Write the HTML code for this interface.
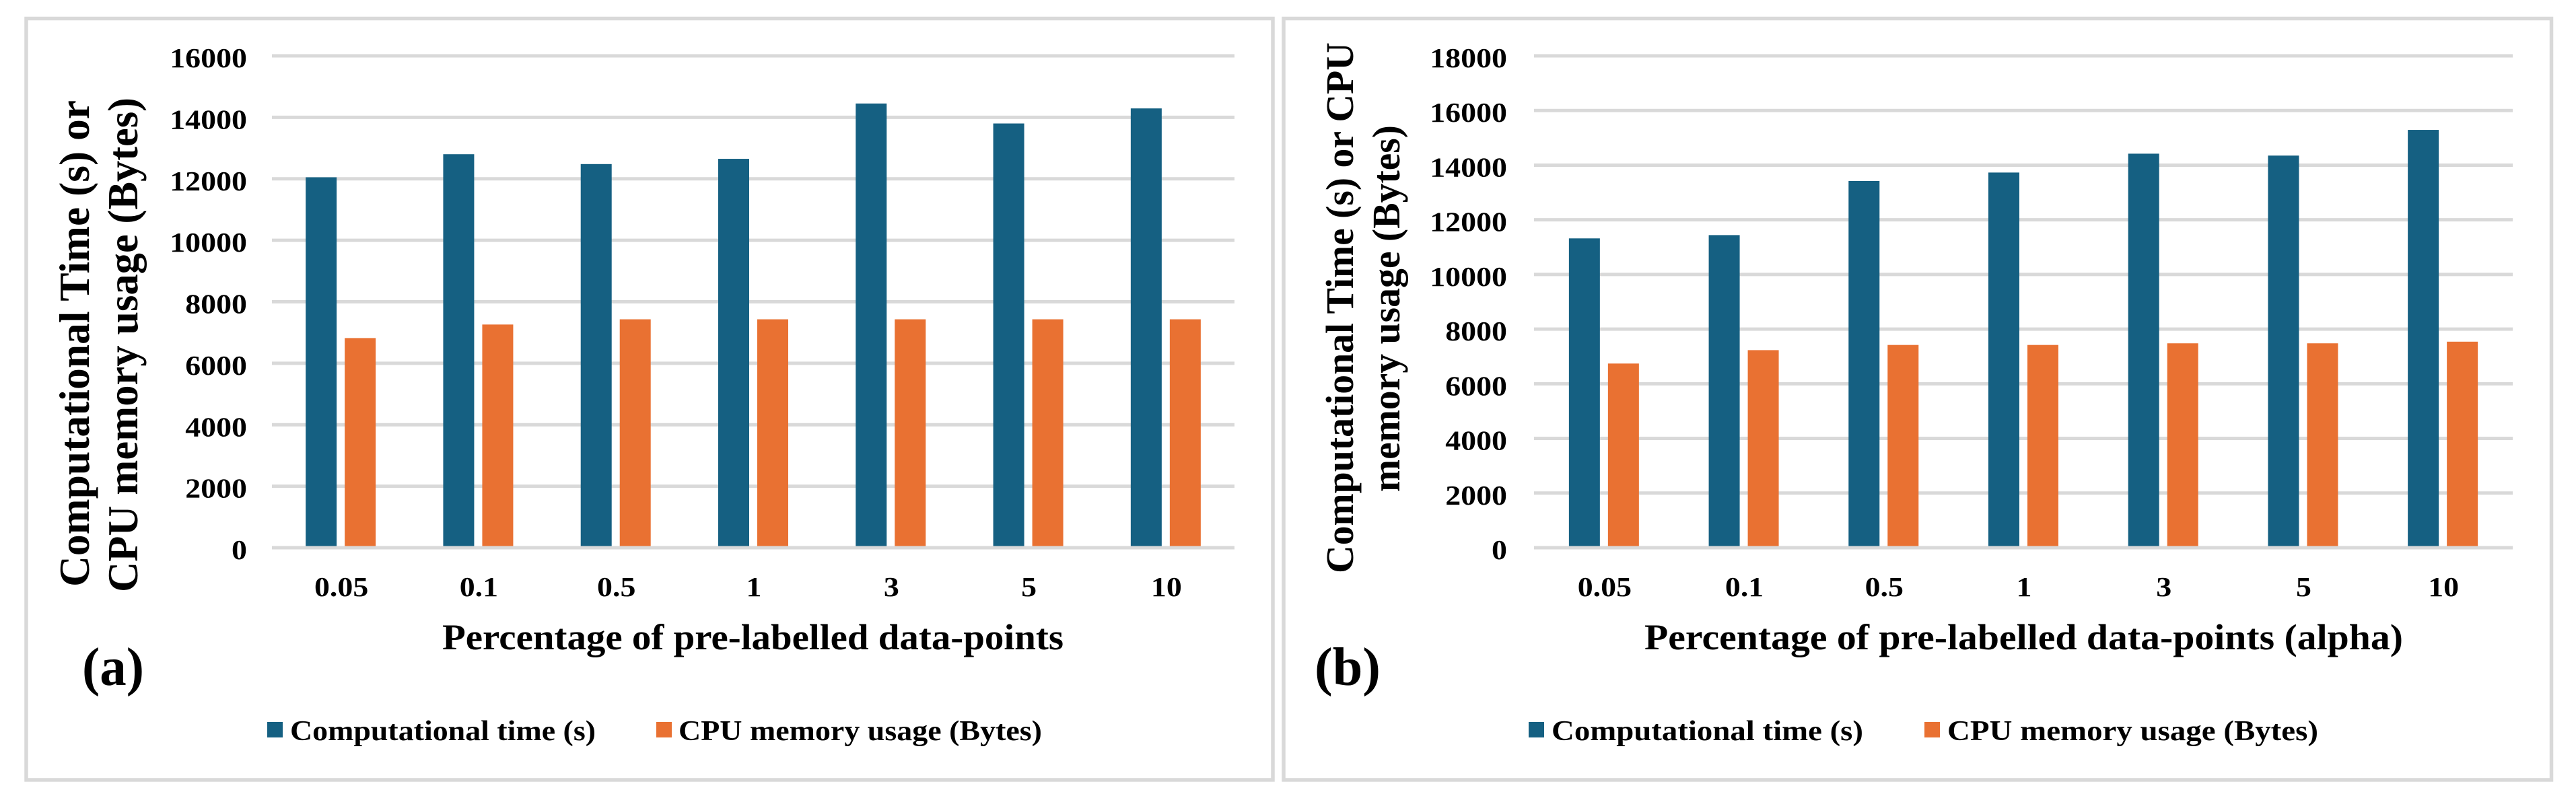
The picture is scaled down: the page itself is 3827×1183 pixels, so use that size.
<!DOCTYPE html>
<html lang="en">
<head>
<meta charset="utf-8">
<title>Computational time and CPU memory usage charts</title>
<style>
  html, body { margin: 0; padding: 0; background: #fff; }
  svg { display: block; }
  text { font-family: "Liberation Serif", serif; font-weight: bold; fill: #000; }
</style>
</head>
<body>
<svg id="figure" xmlns="http://www.w3.org/2000/svg" width="3827" height="1183" viewBox="0 0 3827 1183">
  <rect x="0" y="0" width="3827" height="1183" fill="#ffffff"/>

  <g id="panel-a">
    <rect x="39" y="27.5" width="1852" height="1131.5" fill="#ffffff" stroke="#d9d9d9" stroke-width="5.5"/>
    <g id="plot-a"></g>
    <text transform="translate(132,872) rotate(-90)" font-size="64" textLength="723" lengthAdjust="spacingAndGlyphs">Computational Time (s) or</text>
    <text transform="translate(204,880) rotate(-90)" font-size="64" textLength="735" lengthAdjust="spacingAndGlyphs">CPU memory usage (Bytes)</text>
    <text x="657" y="965" font-size="54" textLength="923" lengthAdjust="spacingAndGlyphs">Percentage of pre-labelled data-points</text>
    <text x="122" y="1018" font-size="80" textLength="92" lengthAdjust="spacingAndGlyphs">(a)</text>
    <rect x="397" y="1073" width="23" height="23" fill="#156082"/>
    <text x="431" y="1100" font-size="42" textLength="454" lengthAdjust="spacingAndGlyphs">Computational time (s)</text>
    <rect x="975" y="1073" width="23" height="23" fill="#e97132"/>
    <text x="1008" y="1100" font-size="42" textLength="540" lengthAdjust="spacingAndGlyphs">CPU memory usage (Bytes)</text>
  </g>

  <g id="panel-b">
    <rect x="1907" y="27.5" width="1883.5" height="1131.5" fill="#ffffff" stroke="#d9d9d9" stroke-width="5.5"/>
    <g id="plot-b"></g>
    <text transform="translate(2010,852) rotate(-90)" font-size="58" textLength="789" lengthAdjust="spacingAndGlyphs">Computational Time (s) or CPU</text>
    <text transform="translate(2079,731) rotate(-90)" font-size="58" textLength="545" lengthAdjust="spacingAndGlyphs">memory usage (Bytes)</text>
    <text x="2443" y="965" font-size="54" textLength="1127" lengthAdjust="spacingAndGlyphs">Percentage of pre-labelled data-points (alpha)</text>
    <text x="1953" y="1018" font-size="80" textLength="98" lengthAdjust="spacingAndGlyphs">(b)</text>
    <rect x="2271" y="1073" width="23" height="23" fill="#156082"/>
    <text x="2305" y="1100" font-size="42" textLength="463" lengthAdjust="spacingAndGlyphs">Computational time (s)</text>
    <rect x="2859" y="1073" width="23" height="23" fill="#e97132"/>
    <text x="2893" y="1100" font-size="42" textLength="551" lengthAdjust="spacingAndGlyphs">CPU memory usage (Bytes)</text>
  </g>
</svg>

<script>
const categories = ["0.05", "0.1", "0.5", "1", "3", "5", "10"];

const ticksA = [0, 2000, 4000, 6000, 8000, 10000, 12000, 14000, 16000];
const timeA = [12050, 12800, 12480, 12650, 14450, 13800, 14290];
const memoryA = [6820, 7260, 7430, 7430, 7430, 7430, 7430];

const ticksB = [0, 2000, 4000, 6000, 8000, 10000, 12000, 14000, 16000, 18000];
const timeB = [11320, 11440, 13420, 13730, 14420, 14350, 15290];
const memoryB = [6740, 7230, 7420, 7420, 7480, 7480, 7540];

const SVG_NS = "http://www.w3.org/2000/svg";
const TIME_COLOR = "#156082";
const MEMORY_COLOR = "#e97132";
const GRID_COLOR = "#d9d9d9";
const PLOT_TOP = 83;
const PLOT_ZERO = 814;

function makeNode(tag, attrs) {
  const node = document.createElementNS(SVG_NS, tag);
  Object.keys(attrs).forEach(function (key) { node.setAttribute(key, attrs[key]); });
  return node;
}

function drawPlot(host, left, right, tickRight, ticks, timeValues, memoryValues) {
  const maxTick = Math.max.apply(null, ticks);
  const yScale = function (v) { return PLOT_ZERO - (v / maxTick) * (PLOT_ZERO - PLOT_TOP); };
  const band = (right - left) / categories.length;
  const xCenter = function (i) { return left + band * (i + 0.5); };

  function addGridline(v) {
    const line = makeNode("line", { x1: left, x2: right, y1: yScale(v), y2: yScale(v), stroke: GRID_COLOR, "stroke-width": 5 });
    
    
    host.appendChild(line);
  }

  ticks.filter(function (v) { return v !== 0; }).forEach(addGridline);

  ticks.forEach(function (v) {
    const label = makeNode("text", { transform: "translate(" + tickRight + "," + (yScale(v) + 17) + ") scale(1.12,1)", "font-size": 41, "text-anchor": "end" });
    label.textContent = String(v);
    
    
    host.appendChild(label);
  });

  categories.forEach(function (name, i) {
    const cx = xCenter(i);

    const timeBar = makeNode("rect", { x: cx - 52, y: yScale(timeValues[i]), width: 46, height: PLOT_ZERO - yScale(timeValues[i]), fill: TIME_COLOR });
    
    
    host.appendChild(timeBar);

    const memoryBar = makeNode("rect", { x: cx + 6, y: yScale(memoryValues[i]), width: 46, height: PLOT_ZERO - yScale(memoryValues[i]), fill: MEMORY_COLOR });
    
    
    host.appendChild(memoryBar);

    const catLabel = makeNode("text", { transform: "translate(" + (cx + 1) + ",886) scale(1.12,1)", "font-size": 41, "text-anchor": "middle" });
    catLabel.textContent = name;
    
    
    host.appendChild(catLabel);
  });

  addGridline(0);
}

drawPlot(document.getElementById("plot-a"), 404, 1834, 367, ticksA, timeA, memoryA);
drawPlot(document.getElementById("plot-b"), 2279, 3733, 2239, ticksB, timeB, memoryB);
</script>
</body>
</html>
